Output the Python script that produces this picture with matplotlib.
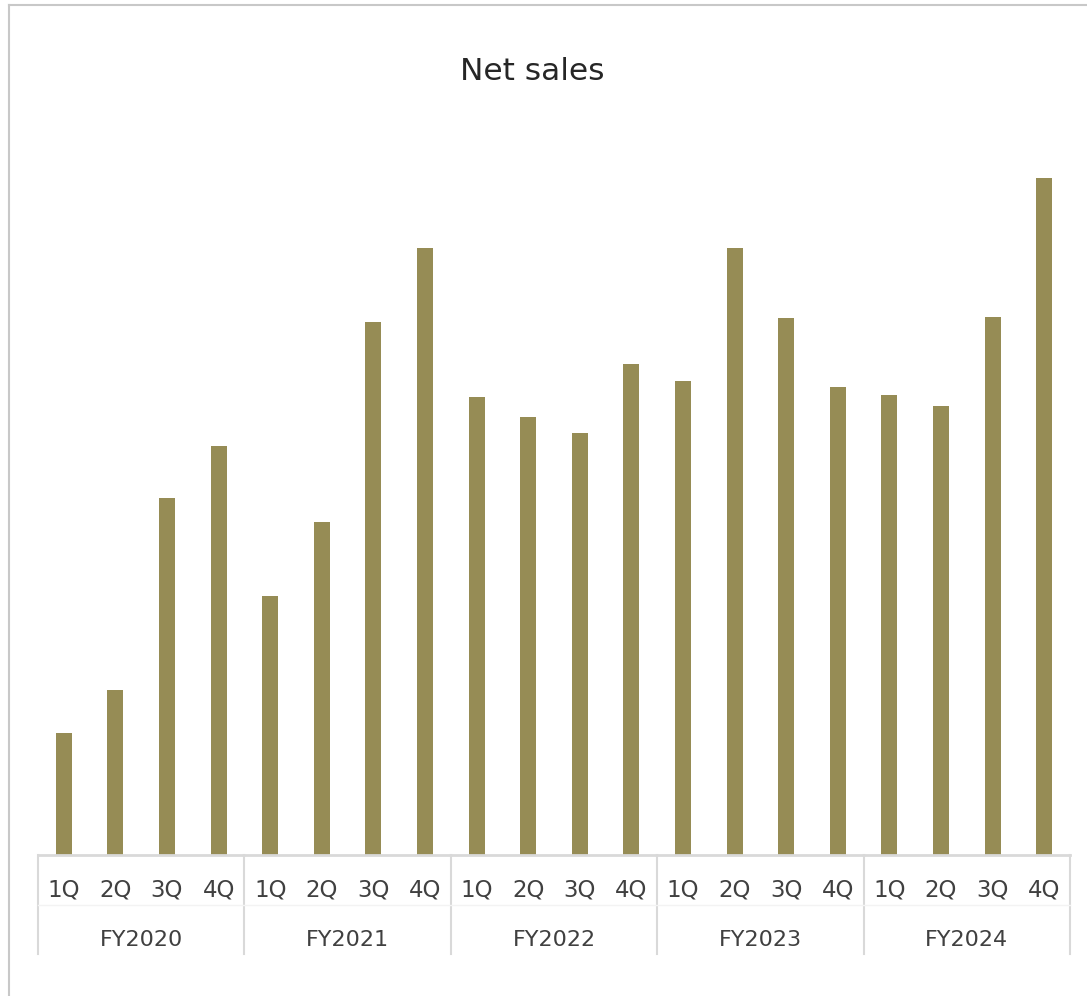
import matplotlib
matplotlib.use("Agg")
import matplotlib.pyplot as plt
import matplotlib.transforms as mtransforms
from matplotlib.lines import Line2D
import numpy as np

years    = ["FY2020", "FY2021", "FY2022", "FY2023", "FY2024"]
quarters = ["1Q", "2Q", "3Q", "4Q"]
net_sales = [122, 165, 357, 409,
             259, 333, 533, 607,
             458, 438, 422, 491,
             474, 607, 537, 468,
             460, 449, 538, 677]

W, H = 1087, 996
BAR   = "#968C55"
GRID  = "#D9D9D9"
TXT   = "#404040"

fig = plt.figure(figsize=(W / 100, H / 100), dpi=100)
fig.patch.set_facecolor("white")

# axes placed in pixel terms
x0, x1, yb, yt = 38, 1070, 855, 140
ax = fig.add_axes([x0 / W, 1 - yb / H, (x1 - x0) / W, (yb - yt) / H])

x = np.arange(len(net_sales))
ax.bar(x, net_sales, width=0.31, color=BAR, zorder=2)
ax.set_xlim(-0.5, len(net_sales) - 0.5)
ax.set_ylim(0, yb - yt)

for s in ["top", "right", "left"]:
    ax.spines[s].set_visible(False)
ax.spines["bottom"].set_color(GRID)
ax.spines["bottom"].set_linewidth(2)
ax.set_yticks([])
ax.set_xticks([])

# two-level category axis
trans = mtransforms.blended_transform_factory(ax.transData, ax.transAxes)
ah = yb - yt
def fy(py):  # pixel row -> axes fraction
    return (yb - py) / ah

for i in range(len(years) + 1):
    xb = i * 4 - 0.5
    ax.add_line(Line2D([xb, xb], [0, fy(954)], transform=trans,
                       color=GRID, lw=1.5, clip_on=False))
ax.add_line(Line2D([-0.5, len(net_sales) - 0.5], [fy(905), fy(905)],
                   transform=trans, color="#F3F3F3", lw=1, clip_on=False))

for i in range(len(net_sales)):
    ax.text(i, fy(890), quarters[i % 4], transform=trans, ha="center",
            va="center", fontsize=16.5, color=TXT)
for j, y in enumerate(years):
    ax.text(j * 4 + 1.5, fy(940), y, transform=trans, ha="center",
            va="center", fontsize=16, color=TXT)

fig.text(532 / W, 1 - 72 / H, "Net sales", ha="center", va="center",
         fontsize=22.5, color="#262626")

# chart border (left and top edges visible)
fig.add_artist(Line2D([9 / W, 9 / W], [0, 1 - 5 / H], transform=fig.transFigure,
                      color="#C8C8C8", lw=1.5))
fig.add_artist(Line2D([9 / W, 1], [1 - 5 / H, 1 - 5 / H], transform=fig.transFigure,
                      color="#C8C8C8", lw=1.5))

fig.savefig("out.png", dpi=100)
